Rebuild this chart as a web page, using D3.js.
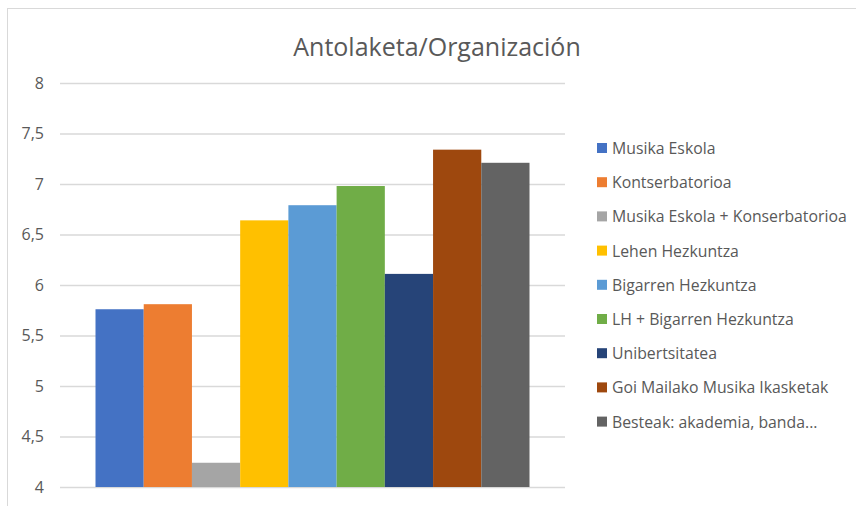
<!DOCTYPE html>
<html>
<head>
<meta charset="utf-8">
<script src="https://cdn.jsdelivr.net/npm/d3@7"></script>
<style>
  body { margin: 0; background: #fff; }
  svg text { font-family: "Open Sans", "Noto Sans", sans-serif; fill: #595959; }
</style>
</head>
<body>
<svg width="856" height="506"></svg>
<script>
// Data
var series = ["Musika Eskola", "Kontserbatorioa", "Musika Eskola + Konserbatorioa",
  "Lehen Hezkuntza", "Bigarren Hezkuntza", "LH + Bigarren Hezkuntza",
  "Unibertsitatea", "Goi Mailako Musika Ikasketak", "Besteak: akademia, banda..."];
var values = [5.76, 5.81, 4.24, 6.64, 6.79, 6.98, 6.11, 7.34, 7.21];
var colors = ["#4472C4", "#ED7D31", "#A5A5A5", "#FFC000", "#5B9BD5", "#70AD47",
  "#264478", "#9E480E", "#636363"];
var ticks = [4, 4.5, 5, 5.5, 6, 6.5, 7, 7.5, 8];

var svg = d3.select("svg");

// chart frame
svg.append("rect")
  .attr("x", 7.5).attr("y", 8.5)
  .attr("width", 860).attr("height", 510)
  .attr("fill", "none")
  .attr("stroke", "#d9d9d9");

var plotLeft = 60, plotRight = 565, plotTop = 83, plotBottom = 487;

var y = d3.scaleLinear().domain([4, 8]).range([plotBottom, plotTop]);
var x = d3.scaleBand()
  .domain(series)
  .range([plotLeft + 35.5, plotRight - 35.5])
  .padding(0);

// Title
svg.append("text")
  .attr("x", 437).attr("y", 56)
  .attr("text-anchor", "middle")
  .style("font-size", "25px")
  .text("Antolaketa/Organización");

// y axis with gridlines
var yAxis = d3.axisLeft(y)
  .tickValues(ticks)
  .tickSize(-(plotRight - plotLeft))
  .tickPadding(16)
  .tickFormat(function(d) { return String(d).replace(".", ","); });

var gy = svg.append("g")
  .attr("transform", "translate(" + plotLeft + ",0)")
  .call(yAxis);
gy.select(".domain").remove();
gy.selectAll(".tick line").attr("stroke", "#d9d9d9").attr("stroke-width", 1.5);
gy.selectAll(".tick text")
  .style("font-size", "16px")
  .attr("fill", "#595959");

// Bars
svg.append("g")
  .selectAll("rect")
  .data(values)
  .enter()
  .append("rect")
    .attr("x", function(d, i) { return x(series[i]); })
    .attr("y", function(d) { return y(d); })
    .attr("width", x.bandwidth())
    .attr("height", function(d) { return y(4) - y(d); })
    .attr("fill", function(d, i) { return colors[i]; });

// Legend
var legend = svg.append("g")
  .selectAll("g")
  .data(series)
  .enter()
  .append("g")
    .attr("transform", function(d, i) { return "translate(597," + (148 + i * 34.2) + ")"; });

legend.append("rect")
  .attr("x", 0).attr("y", -5)
  .attr("width", 10).attr("height", 10)
  .attr("fill", function(d, i) { return colors[i]; });

legend.append("text")
  .attr("x", 15).attr("y", 6)
  .style("font-size", "15.8px")
  .text(function(d) { return d; });
</script>
</body>
</html>
